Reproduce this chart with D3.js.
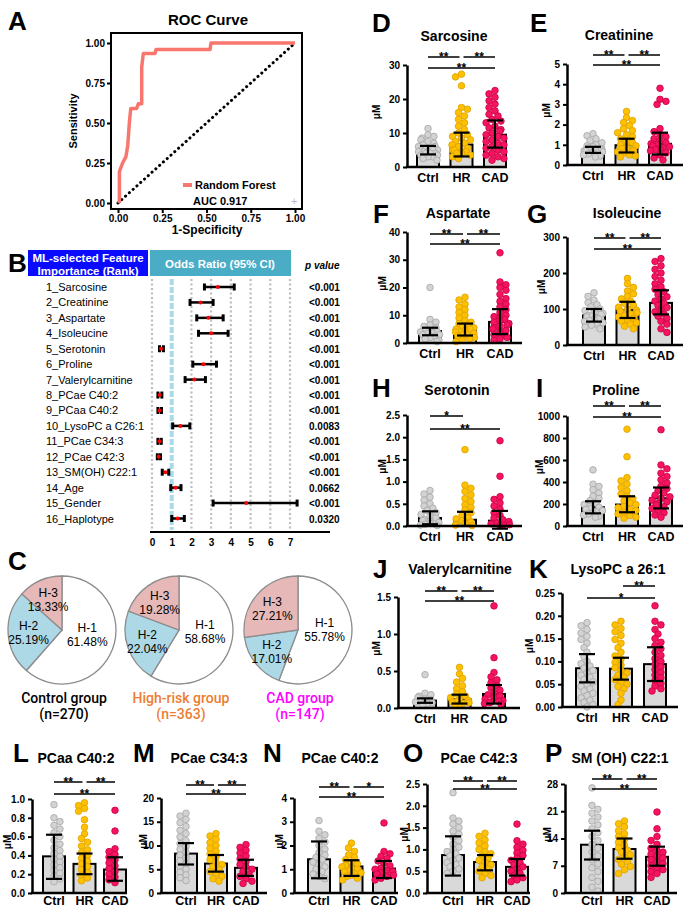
<!DOCTYPE html>
<head>
<meta charset="utf-8">
<script src="https://d3js.org/d3.v7.min.js"></script>
<style>
  body { margin: 0; background: #fff; }
  svg text { font-family: "Liberation Sans", Arial, sans-serif; }
  .tk text { font-size: 10px; font-weight: bold; }
  .tk line { stroke: #000; stroke-width: 2px; }
  .tk path { stroke: #000; stroke-width: 2.5px; }
</style>
</head>
<body>
<div id="fig"></div>
<script>
// ---------- data ----------
// A: ROC curve (1-specificity, sensitivity)
var rocFpr = [0.008, 0.008, 0.026, 0.045, 0.055, 0.064, 0.072, 0.105, 0.115, 0.134, 0.134, 0.143, 0.209, 0.215, 0.52, 0.525, 1.0];
var rocTpr = [0.0, 0.196, 0.25, 0.29, 0.36, 0.50, 0.59, 0.59, 0.62, 0.62, 0.85, 0.935, 0.935, 0.96, 0.96, 1.0, 1.0];

// B: forest plot
var featureNames = ["1_Sarcosine", "2_Creatinine", "3_Aspartate", "4_Isoleucine", "5_Serotonin", "6_Proline",
  "7_Valerylcarnitine", "8_PCae C40:2", "9_PCaa C40:2", "10_LysoPC a C26:1", "11_PCae C34:3", "12_PCae C42:3",
  "13_SM(OH) C22:1", "14_Age", "15_Gender", "16_Haplotype"];
var orValue = [3.34, 2.46, 2.86, 3.0, 0.46, 2.61, 2.15, 0.39, 0.38, 1.44, 0.38, 0.34, 0.68, 1.2, 4.78, 1.3];
var orLow   = [2.66, 1.93, 2.27, 2.36, 0.38, 2.07, 1.68, 0.30, 0.30, 1.05, 0.30, 0.27, 0.52, 0.95, 3.1, 1.0];
var orHigh  = [4.17, 3.10, 3.61, 3.86, 0.58, 3.27, 2.71, 0.50, 0.48, 1.92, 0.47, 0.43, 0.85, 1.47, 7.36, 1.64];
var pValues = ["<0.001", "<0.001", "<0.001", "<0.001", "<0.001", "<0.001", "<0.001", "<0.001", "<0.001",
  "0.0083", "<0.001", "<0.001", "<0.001", "0.0662", "<0.001", "0.0320"];

// C: haplotype pies
var hapLabels = ["H-1", "H-2", "H-3"];
var hapControl = [61.48, 25.19, 13.33];
var hapHighRisk = [58.68, 22.04, 19.28];
var hapCAD = [55.78, 17.01, 27.21];
var pieGroups = ["Control group", "High-risk group", "CAD group"];
var pieN = ["(n=270)", "(n=363)", "(n=147)"];

// D-P: bar + dot panels
var groups = ["Ctrl", "HR", "CAD"];

var sarcosineMean = [5.0, 6.6, 9.5];
var sarcosineErr = [[3.7, 6.2], [3.1, 10.1], [5.7, 13.7]];
var sarcosineDots = [
  [11.3, 9.5, 9, 8.5, 8, 7.5, 7, 6.5, 6.5, 6, 6, 5.5, 5.5, 5, 5, 5, 4.5, 4.5, 4.5, 4, 4, 4, 3.5, 3.5, 3, 3, 2.5, 2],
  [27.3, 26.5, 23.9, 17.5, 17, 16, 15, 14, 13, 12, 11, 10, 9.5, 9, 8.5, 8, 7.5, 7, 6.5, 6, 5.5, 5, 5, 4.5, 4.5, 4, 4, 3.5, 3, 2.5],
  [22.5, 21.5, 20.5, 19.5, 18.5, 17.5, 16.5, 15.5, 15, 14, 13.5, 13, 12, 11.5, 11, 10.5, 10, 9.5, 9, 8.5, 8, 7.5, 7, 6.5, 6, 5.5, 5, 4.5, 4, 3.5, 3, 2.5, 2]];

var creatinineMean = [0.75, 0.98, 1.05];
var creatinineErr = [[0.6, 0.9], [0.62, 1.3], [0.52, 1.6]];
var creatinineDots = [
  [1.55, 1.45, 1.3, 1.2, 1.1, 1.0, 0.95, 0.9, 0.85, 0.8, 0.8, 0.75, 0.7, 0.7, 0.65, 0.6, 0.6, 0.55, 0.5, 0.45, 0.4],
  [2.65, 2.35, 2.2, 2.1, 1.95, 1.8, 1.7, 1.6, 1.5, 1.4, 1.3, 1.2, 1.1, 1.0, 0.95, 0.9, 0.85, 0.8, 0.75, 0.7, 0.65, 0.6, 0.5, 0.45, 0.4],
  [3.8, 3.25, 3.15, 3.0, 1.8, 1.65, 1.5, 1.4, 1.3, 1.2, 1.1, 1.05, 1.0, 0.95, 0.9, 0.85, 0.8, 0.75, 0.7, 0.6, 0.5, 0.35, 0.25]];

var aspartateMean = [4.3, 4.7, 7.6];
var aspartateErr = [[2.8, 5.5], [2.7, 7.0], [3.2, 12.2]];
var aspartateDots = [
  [20, 8.5, 7.5, 6.5, 6, 5.5, 5, 4.5, 4.5, 4, 4, 3.5, 3.5, 3, 3, 2.5, 2, 1.5, 1, 0.5],
  [16.5, 15.5, 14, 13, 12, 11, 10, 9, 8, 7.5, 7, 6.5, 6, 5.5, 5, 5, 4.5, 4, 4, 3.5, 3, 3, 2.5, 2, 1.5, 1, 0.5],
  [32.5, 22, 21, 20, 19, 17.5, 16, 15, 14, 13, 12, 11, 10, 9.5, 9, 8.5, 8, 7.5, 7, 6.5, 6, 5.5, 5, 4.5, 4, 3.5, 3, 2.5, 2, 1.5, 1]];

var isoleucineMean = [82, 97, 117];
var isoleucineErr = [[65, 100], [75, 120], [85, 152]];
var isoleucineDots = [
  [145, 135, 125, 118, 112, 106, 100, 96, 92, 88, 85, 82, 80, 78, 75, 72, 70, 68, 65, 62, 58, 55, 50, 45],
  [185, 170, 160, 150, 142, 135, 128, 122, 116, 110, 105, 100, 97, 94, 90, 86, 82, 78, 74, 70, 66, 62, 58, 52, 45],
  [240, 232, 220, 210, 200, 190, 180, 170, 162, 155, 148, 140, 134, 128, 122, 116, 110, 104, 98, 92, 86, 80, 74, 66, 58, 45, 35]];

var serotoninMean = [0.18, 0.14, 0.12];
var serotoninErr = [[0.04, 0.33], [0.0, 0.32], [-0.06, 0.34]];
var serotoninDots = [
  [0.8, 0.72, 0.65, 0.58, 0.5, 0.45, 0.4, 0.35, 0.3, 0.26, 0.22, 0.18, 0.15, 0.12, 0.1, 0.08, 0.06, 0.04, 0.02, 0.01],
  [1.72, 0.92, 0.85, 0.78, 0.7, 0.62, 0.55, 0.48, 0.42, 0.36, 0.3, 0.25, 0.2, 0.16, 0.12, 0.09, 0.06, 0.04, 0.02, 0.01],
  [1.92, 1.12, 0.66, 0.6, 0.52, 0.45, 0.38, 0.3, 0.24, 0.18, 0.14, 0.1, 0.07, 0.05, 0.03, 0.02, 0.01]];

var prolineMean = [170, 195, 252];
var prolineErr = [[115, 225], [125, 270], [160, 350]];
var prolineDots = [
  [510, 380, 360, 330, 300, 270, 250, 230, 210, 195, 180, 170, 160, 150, 140, 130, 120, 110, 100, 90, 80],
  [880, 630, 440, 410, 380, 350, 320, 290, 270, 250, 230, 210, 195, 180, 165, 150, 140, 125, 110, 95, 80, 70],
  [875, 555, 520, 480, 450, 420, 390, 360, 340, 320, 300, 280, 265, 250, 235, 220, 205, 190, 175, 160, 140, 120, 100, 80]];

var valerylMean = [0.1, 0.12, 0.19];
var valerylErr = [[0.07, 0.13], [0.06, 0.18], [0.06, 0.31]];
var valerylDots = [
  [0.45, 0.2, 0.18, 0.16, 0.14, 0.12, 0.11, 0.1, 0.09, 0.08, 0.07, 0.06, 0.05],
  [0.55, 0.46, 0.4, 0.35, 0.3, 0.26, 0.22, 0.19, 0.16, 0.14, 0.12, 0.1, 0.09, 0.08, 0.07, 0.06, 0.05, 0.04],
  [1.38, 0.68, 0.48, 0.42, 0.38, 0.34, 0.3, 0.27, 0.24, 0.21, 0.18, 0.16, 0.14, 0.12, 0.1, 0.09, 0.08, 0.07, 0.06, 0.05]];

var lysoMean = [0.085, 0.084, 0.094];
var lysoErr = [[0.054, 0.116], [0.06, 0.108], [0.057, 0.131]];
var lysoDots = [
  [0.185, 0.178, 0.17, 0.162, 0.155, 0.148, 0.14, 0.13, 0.12, 0.11, 0.1, 0.095, 0.09, 0.085, 0.08, 0.075, 0.07, 0.065, 0.06, 0.055, 0.05, 0.045, 0.04, 0.035, 0.03, 0.025, 0.02, 0.015, 0.01, 0.005, 0.0],
  [0.188, 0.18, 0.172, 0.165, 0.157, 0.148, 0.14, 0.13, 0.12, 0.112, 0.105, 0.098, 0.092, 0.086, 0.08, 0.075, 0.07, 0.065, 0.06, 0.055, 0.05, 0.045, 0.04, 0.03, 0.015, 0.005],
  [0.222, 0.188, 0.18, 0.17, 0.16, 0.15, 0.142, 0.135, 0.128, 0.12, 0.113, 0.106, 0.1, 0.094, 0.088, 0.082, 0.076, 0.07, 0.064, 0.058, 0.052, 0.046, 0.04, 0.035]];

var pcaa402Mean = [0.39, 0.31, 0.25];
var pcaa402Err = [[0.15, 0.62], [0.2, 0.42], [0.13, 0.38]];
var pcaa402Dots = [
  [0.94, 0.8, 0.76, 0.72, 0.68, 0.64, 0.6, 0.56, 0.52, 0.48, 0.45, 0.42, 0.39, 0.36, 0.33, 0.3, 0.27, 0.24, 0.21, 0.18, 0.15, 0.12],
  [0.96, 0.93, 0.9, 0.87, 0.78, 0.7, 0.63, 0.58, 0.54, 0.5, 0.46, 0.43, 0.4, 0.37, 0.34, 0.31, 0.28, 0.25, 0.22, 0.19, 0.16, 0.13],
  [0.88, 0.66, 0.47, 0.44, 0.41, 0.38, 0.35, 0.32, 0.29, 0.26, 0.23, 0.2, 0.17, 0.14, 0.11]];

var pcae343Mean = [8.3, 6.2, 5.3];
var pcae343Err = [[6.0, 10.5], [4.5, 8.0], [3.6, 7.0]];
var pcae343Dots = [
  [16.8, 16.2, 15.5, 14.8, 14, 13.2, 12.5, 11.8, 11, 10.4, 9.8, 9.2, 8.6, 8, 7.4, 6.8, 6.2, 5.6, 5, 4.4, 3.8, 3.2, 2.6],
  [12.5, 12, 11.3, 10.6, 10, 9.4, 8.8, 8.2, 7.6, 7, 6.5, 6, 5.5, 5, 4.5, 4, 3.5, 3, 2.5],
  [10.2, 9.6, 9, 8.4, 7.8, 7.2, 6.6, 6, 5.5, 5, 4.5, 4, 3.5, 3, 2.5, 2]];

var pcae402Mean = [1.42, 1.12, 1.03];
var pcae402Err = [[0.62, 2.17], [0.72, 1.38], [0.63, 1.35]];
var pcae402Dots = [
  [3.05, 2.6, 2.45, 2.3, 2.15, 2.0, 1.85, 1.7, 1.6, 1.5, 1.4, 1.3, 1.2, 1.1, 1.0, 0.9, 0.8, 0.7, 0.6],
  [2.1, 1.9, 1.75, 1.6, 1.5, 1.4, 1.3, 1.22, 1.15, 1.1, 1.05, 1.0, 0.95, 0.9, 0.85, 0.8, 0.75, 0.7, 0.62, 0.55],
  [2.95, 1.75, 1.65, 1.55, 1.45, 1.35, 1.25, 1.15, 1.05, 1.0, 0.95, 0.9, 0.85, 0.8, 0.75, 0.7, 0.62, 0.55]];

var pcae423Mean = [0.87, 0.71, 0.6];
var pcae423Err = [[0.4, 1.3], [0.52, 0.87], [0.4, 0.78]];
var pcae423Dots = [
  [2.3, 1.72, 1.65, 1.58, 1.5, 1.42, 1.35, 1.28, 1.2, 1.12, 1.05, 1.0, 0.95, 0.9, 0.85, 0.8, 0.75, 0.7, 0.65, 0.6, 0.55, 0.5, 0.45],
  [1.37, 1.3, 1.22, 1.15, 1.08, 1.0, 0.95, 0.9, 0.85, 0.8, 0.75, 0.7, 0.65, 0.6, 0.55, 0.5, 0.45, 0.4, 0.35],
  [1.58, 1.2, 1.12, 1.05, 0.98, 0.92, 0.86, 0.8, 0.75, 0.7, 0.65, 0.6, 0.55, 0.5, 0.45, 0.4, 0.35, 0.3, 0.26]];

var smohMean = [12.4, 11.3, 9.3];
var smohErr = [[8.6, 16.0], [8.8, 14.0], [7.0, 11.9]];
var smohDots = [
  [27, 22.5, 21.5, 20.5, 19.5, 18.5, 17.5, 16.5, 15.5, 14.5, 13.5, 12.5, 11.5, 10.5, 9.5, 8.5, 7.5, 6.5, 5.5, 4, 3, 1.5, 0.5],
  [18.5, 17.8, 17, 16, 15.2, 14.5, 13.8, 13, 12.3, 11.6, 11, 10.4, 9.8, 9.2, 8.6, 8, 7.4, 6.8, 6, 5],
  [20.8, 16.5, 14.5, 13.5, 12.5, 11.5, 11, 10.5, 10, 9.5, 9, 8.5, 8, 7.5, 7, 6.5, 6, 5.5, 5, 4]];

// ---------- layout ----------
var panels = [
  {id: "D", title: "Sarcosine", mean: sarcosineMean, err: sarcosineErr, dots: sarcosineDots, ticks: [0, 10, 20, 30], fmt: "d", yMax: 30,
   ax: 407, xEnd: 507, c: [428, 495], y0: 167, yTop: 65, sig: [["**", "**", "**"], 57, 68], uX: 380, lx: 372, ly: 32, tx: 454, ty: 41},
  {id: "E", title: "Creatinine", mean: creatinineMean, err: creatinineErr, dots: creatinineDots, ticks: [0, 1, 2, 3, 4, 5], fmt: "d", yMax: 5,
   ax: 567, xEnd: 683, c: [593, 660], y0: 165, yTop: 64, sig: [["**", "**", "**"], 55, 65], uX: 550, lx: 530, ly: 32, tx: 619, ty: 40},
  {id: "F", title: "Aspartate", mean: aspartateMean, err: aspartateErr, dots: aspartateDots, ticks: [0, 10, 20, 30, 40], fmt: "d", yMax: 40,
   ax: 407, xEnd: 522, c: [430, 500], y0: 343, yTop: 232, sig: [["**", "**", "**"], 234, 244], uX: 386, lx: 373, ly: 223, tx: 458, ty: 218},
  {id: "G", title: "Isoleucine", mean: isoleucineMean, err: isoleucineErr, dots: isoleucineDots, ticks: [0, 100, 200, 300], fmt: "d", yMax: 300,
   ax: 567, xEnd: 683, c: [594, 661], y0: 345, yTop: 237, sig: [["**", "**", "**"], 238, 249], uX: 545, lx: 527, ly: 223, tx: 627, ty: 218},
  {id: "H", title: "Serotonin", mean: serotoninMean, err: serotoninErr, dots: serotoninDots, ticks: [0, 0.5, 1, 1.5, 2, 2.5], fmt: ".1f", yMax: 2.5,
   ax: 407, xEnd: 522, c: [430, 500], y0: 526, yTop: 415, sig: [["*", null, "**"], 416, 429], uX: 386, lx: 372, ly: 397, tx: 457, ty: 395},
  {id: "I", title: "Proline", mean: prolineMean, err: prolineErr, dots: prolineDots, ticks: [0, 200, 400, 600, 800, 1000], fmt: "d", yMax: 1000,
   ax: 567, xEnd: 683, c: [593, 661], y0: 526, yTop: 416, sig: [["**", "**", "**"], 406, 417], uX: 543, lx: 536, ly: 397, tx: 616, ty: 395},
  {id: "J", title: "Valerylcarnitine", mean: valerylMean, err: valerylErr, dots: valerylDots, ticks: [0, 0.5, 1, 1.5], fmt: ".1f", yMax: 1.5,
   ax: 398, xEnd: 520, c: [425, 494], y0: 708, yTop: 597, sig: [["**", "**", "**"], 591, 601], uX: 380, lx: 373, ly: 578, tx: 460, ty: 574},
  {id: "K", title: "LysoPC a 26:1", mean: lysoMean, err: lysoErr, dots: lysoDots, ticks: [0, 0.05, 0.1, 0.15, 0.2, 0.25], fmt: ".2f", yMax: 0.25,
   ax: 562, xEnd: 678, c: [587, 655], y0: 707, yTop: 593, sig: [[null, "**", "*"], 586, 598], uX: 533, lx: 529, ly: 578, tx: 618, ty: 574},
  {id: "L", title: "PCaa C40:2", mean: pcaa402Mean, err: pcaa402Err, dots: pcaa402Dots, ticks: [0, 0.2, 0.4, 0.6, 0.8, 1.0], fmt: ".1f", yMax: 1.0,
   ax: 32, xEnd: 127, c: [54, 115], y0: 893, yTop: 799, sig: [["**", "**", "**"], 782, 794], uX: 11, lx: 13, ly: 762, tx: 76, ty: 763},
  {id: "M", title: "PCae C34:3", mean: pcae343Mean, err: pcae343Err, dots: pcae343Dots, ticks: [0, 5, 10, 15, 20], fmt: "d", yMax: 20,
   ax: 161, xEnd: 267, c: [186, 246], y0: 893, yTop: 798, sig: [["**", "**", "**"], 785, 794], uX: 147, lx: 133, ly: 762, tx: 209, ty: 763},
  {id: "N", title: "PCae C40:2", mean: pcae402Mean, err: pcae402Err, dots: pcae402Dots, ticks: [0, 1, 2, 3, 4], fmt: "d", yMax: 4,
   ax: 294, xEnd: 398, c: [319, 384], y0: 893, yTop: 798, sig: [["**", "*", "**"], 787, 797], uX: 283, lx: 263, ly: 762, tx: 340, ty: 763},
  {id: "O", title: "PCae C42:3", mean: pcae423Mean, err: pcae423Err, dots: pcae423Dots, ticks: [0, 0.5, 1, 1.5, 2, 2.5], fmt: ".1f", yMax: 2.5,
   ax: 427, xEnd: 530, c: [453, 517], y0: 893, yTop: 784, sig: [["**", "**", "**"], 781, 789], uX: 408, lx: 403, ly: 762, tx: 479, ty: 763},
  {id: "P", title: "SM (OH) C22:1", mean: smohMean, err: smohErr, dots: smohDots, ticks: [0, 7, 14, 21, 28], fmt: "d", yMax: 28,
   ax: 565, xEnd: 677, c: [592, 657], y0: 893, yTop: 784, sig: [["**", "**", "**"], 779, 789], uX: 551, lx: 545, ly: 762, tx: 620, ty: 763}
];

var dotFill = ["#d3d3d3", "#ffc000", "#f7145f"];
var dotStroke = ["#a6a6a6", "#dca200", "#c8004a"];

var svg = d3.select("#fig").append("svg").attr("width", 685).attr("height", 909);

function letter(t, x, y) {
  svg.append("text").attr("x", x).attr("y", y).attr("font-size", 26).attr("font-weight", "bold").text(t);
}

// ---------- A: ROC ----------
letter("A", 8, 30);
svg.append("text").attr("x", 208).attr("y", 25).attr("text-anchor", "middle")
  .attr("font-size", 15).attr("font-weight", "bold").text("ROC Curve");

var rx = d3.scaleLinear().domain([0, 1]).range([118, 295]);
var ry = d3.scaleLinear().domain([0, 1]).range([203, 43]);

svg.append("rect").attr("x", 111).attr("y", 33).attr("width", 191).attr("height", 176)
  .attr("fill", "none").attr("stroke", "#000").attr("stroke-width", 2);

var rocTicks = [0, 0.25, 0.5, 0.75, 1];
var ay = svg.append("g").attr("class", "tk").attr("transform", "translate(111,0)")
  .call(d3.axisLeft(ry).tickValues(rocTicks).tickFormat(d3.format(".2f")).tickSize(4).tickPadding(2));
ay.select(".domain").remove();
ay.selectAll("text").attr("font-size", 11);
var axx = svg.append("g").attr("class", "tk").attr("transform", "translate(0,209)")
  .call(d3.axisBottom(rx).tickValues(rocTicks).tickFormat(d3.format(".2f")).tickSize(4).tickPadding(2));
axx.select(".domain").remove();
axx.selectAll("text").attr("font-size", 11);

svg.append("text").attr("transform", "translate(77,121) rotate(-90)").attr("text-anchor", "middle")
  .attr("font-size", 11).attr("font-weight", "bold").text("Sensitivity");
svg.append("text").attr("x", 207).attr("y", 234).attr("text-anchor", "middle")
  .attr("font-size", 12).attr("font-weight", "bold").text("1-Specificity");

svg.append("line").attr("x1", rx(0)).attr("y1", ry(0)).attr("x2", rx(1)).attr("y2", ry(1))
  .attr("stroke", "#000").attr("stroke-width", 3).attr("stroke-dasharray", "0.1,5").attr("stroke-linecap", "round");

var rocLine = d3.line().x(function (d, i) { return rx(rocFpr[i]); }).y(function (d, i) { return ry(rocTpr[i]); });
svg.append("path").attr("d", rocLine(rocFpr)).attr("fill", "none")
  .attr("stroke", "#f8766d").attr("stroke-width", 3.5).attr("stroke-linejoin", "round");

svg.append("line").attr("x1", 183).attr("x2", 192).attr("y1", 185).attr("y2", 185)
  .attr("stroke", "#f8766d").attr("stroke-width", 4);
svg.append("text").attr("x", 195).attr("y", 189).attr("font-size", 11).attr("font-weight", "bold").text("Random Forest");
svg.append("text").attr("x", 193).attr("y", 205).attr("font-size", 11).attr("font-weight", "bold").text("AUC 0.917");
svg.append("text").attr("x", 291).attr("y", 205).attr("font-size", 11).attr("fill", "#bbb").text("+");

// ---------- B: forest plot ----------
letter("B", 8, 272);
svg.append("rect").attr("x", 28).attr("y", 250).attr("width", 120).attr("height", 26).attr("fill", "#0a0aff");
svg.append("text").attr("x", 88).attr("y", 261.5).attr("text-anchor", "middle").attr("fill", "#fff")
  .attr("font-size", 11.5).attr("font-weight", "bold").text("ML-selected Feature");
svg.append("text").attr("x", 88).attr("y", 274.5).attr("text-anchor", "middle").attr("fill", "#fff")
  .attr("font-size", 11.5).attr("font-weight", "bold").text("Importance (Rank)");
svg.append("rect").attr("x", 150).attr("y", 250).attr("width", 141).attr("height", 26).attr("fill", "#4bacc6");
svg.append("text").attr("x", 220).attr("y", 268).attr("text-anchor", "middle").attr("fill", "#fff")
  .attr("font-size", 11.5).attr("font-weight", "bold").text("Odds Ratio (95% CI)");
svg.append("text").attr("x", 305).attr("y", 269).attr("font-size", 10).attr("font-weight", "bold")
  .attr("font-style", "italic").text("p value");

var fx = d3.scaleLinear().domain([0, 7]).range([152, 290]);
var fy = d3.scalePoint().domain(featureNames).range([287, 518.5]);

d3.range(8).forEach(function (k) {
  svg.append("line").attr("x1", fx(k)).attr("x2", fx(k)).attr("y1", 279).attr("y2", 530)
    .attr("stroke", k === 1 ? "#a8dbe8" : "#bdbdbd").attr("stroke-width", k === 1 ? 4 : 2.2)
    .attr("stroke-dasharray", k === 1 ? "6,2" : "2,2.5");
});

var fax = svg.append("g").attr("transform", "translate(0,532)")
  .call(d3.axisBottom(fx).tickValues(d3.range(8)).tickFormat(d3.format("d")).tickSize(0).tickPadding(7));
fax.select(".domain").remove();
fax.selectAll("text").attr("font-size", 10).attr("font-weight", "bold");
svg.append("line").attr("x1", 150).attr("x2", 330).attr("y1", 532).attr("y2", 532)
  .attr("stroke", "#000").attr("stroke-width", 2);

featureNames.forEach(function (name, i) {
  var yy = fy(name);
  svg.append("text").attr("x", 46).attr("y", yy + 4).attr("font-size", 11).text(name);
  svg.append("line").attr("x1", fx(orLow[i])).attr("x2", fx(orHigh[i])).attr("y1", yy).attr("y2", yy)
    .attr("stroke", "#000").attr("stroke-width", 2.5);
  [orLow[i], orHigh[i]].forEach(function (v) {
    svg.append("rect").attr("x", fx(v) - 1.5).attr("y", yy - 3.5).attr("width", 3).attr("height", 7).attr("fill", "#000");
  });
  svg.append("circle").attr("cx", fx(orValue[i])).attr("cy", yy).attr("r", 2).attr("fill", "#ff0000");
  svg.append("text").attr("x", 309).attr("y", yy + 4).attr("font-size", 10).attr("font-weight", "bold").text(pValues[i]);
});

// ---------- C: pies ----------
letter("C", 8, 570);
var pieData = [hapControl, hapHighRisk, hapCAD];
var pieCx = [62, 179, 298];
var pieCol = ["#ffffff", "#add8e6", "#e6b8b7"];
var labelR = [0.5, 0.62, 0.63];
var groupCol = ["#000000", "#ed7d31", "#ff00ff"];
var pie = d3.pie().sort(null);
var pr = 54, pcy = 630;
pieData.forEach(function (vals, g) {
  var gg = svg.append("g").attr("transform", "translate(" + pieCx[g] + "," + pcy + ")");
  var arcs = pie(vals);
  gg.selectAll("path").data(arcs).enter().append("path")
    .attr("d", d3.arc().innerRadius(0).outerRadius(pr))
    .attr("fill", function (d, i) { return pieCol[i]; })
    .attr("stroke", "#8c8c8c").attr("stroke-width", 1.3);
  arcs.forEach(function (a, i) {
    var c = d3.arc().innerRadius(pr * labelR[i]).outerRadius(pr * labelR[i]).centroid(a);
    var dy = i === 0 ? -6 : 0;
    gg.append("text").attr("x", c[0]).attr("y", c[1] - 2 + dy).attr("text-anchor", "middle")
      .attr("font-size", 12).text(hapLabels[i]);
    gg.append("text").attr("x", c[0]).attr("y", c[1] + 12 + dy).attr("text-anchor", "middle")
      .attr("font-size", 12).text(vals[i].toFixed(2) + "%");
  });
  svg.append("text").attr("x", pieCx[g] + 2).attr("y", 703).attr("text-anchor", "middle")
    .style("font-family", "Roboto, sans-serif").attr("font-weight", 500)
    .attr("font-size", 14).attr("fill", groupCol[g]).text(pieGroups[g]);
  svg.append("text").attr("x", pieCx[g] + 2).attr("y", 719).attr("text-anchor", "middle")
    .style("font-family", "Roboto, sans-serif").attr("font-weight", 500)
    .attr("font-size", 14).attr("fill", groupCol[g]).text(pieN[g]);
});

// ---------- D-P: bar panels ----------
function swarm(vals, cx, y, r, half) {
  var placed = [];
  var pts = vals.map(function (v) { return {v: v, py: y(v)}; }).sort(function (a, b) { return a.py - b.py; });
  pts.forEach(function (d, n) {
    var best = null;
    for (var k = 0; k <= 12 && best === null; k++) {
      var opts = k === 0 ? [0] : (n % 2 ? [-k, k] : [k, -k]);
      for (var j = 0; j < opts.length; j++) {
        var off = opts[j] * r * 0.9;
        if (Math.abs(off) > half) continue;
        var ok = placed.every(function (p) { return Math.hypot(p.x - (cx + off), p.py - d.py) >= r * 1.55; });
        if (ok) { best = off; break; }
      }
    }
    if (best === null) best = ((n * 7) % 9 - 4) / 4 * half;
    d.x = cx + best;
    placed.push(d);
  });
  return pts;
}

panels.forEach(function (p) {
  var x = d3.scalePoint().domain(groups).range(p.c);
  var y = d3.scaleLinear().domain([0, p.yMax]).range([p.y0, p.yTop]);
  var g = svg.append("g");

  letter(p.id, p.lx, p.ly);
  g.append("text").attr("x", p.tx).attr("y", p.ty).attr("text-anchor", "middle")
    .attr("font-size", 14).attr("font-weight", "bold").text(p.title);

  g.selectAll("rect.bar").data(groups).enter().append("rect").attr("class", "bar")
    .attr("x", function (d) { return x(d) - 11; })
    .attr("y", function (d, i) { return y(p.mean[i]); })
    .attr("width", 22)
    .attr("height", function (d, i) { return p.y0 - y(p.mean[i]); })
    .attr("fill", "#d9d9d9").attr("stroke", "#000").attr("stroke-width", 2);

  groups.forEach(function (grp, i) {
    var pts = swarm(p.dots[i], x(grp), y, 3.3, 9.5);
    g.selectAll(null).data(pts).enter().append("circle")
      .attr("cx", function (d) { return d.x; }).attr("cy", function (d) { return d.py; })
      .attr("r", 3.3).attr("fill", dotFill[i]).attr("stroke", dotStroke[i]).attr("stroke-width", 0.8);
  });

  groups.forEach(function (grp, i) {
    var cx = x(grp), lo = y(p.err[i][0]), hi = y(p.err[i][1]);
    g.append("line").attr("x1", cx).attr("x2", cx).attr("y1", lo).attr("y2", hi).attr("stroke", "#000").attr("stroke-width", 2.2);
    [lo, hi].forEach(function (yy) {
      g.append("line").attr("x1", cx - 8).attr("x2", cx + 8).attr("y1", yy).attr("y2", yy)
        .attr("stroke", "#000").attr("stroke-width", 2.2);
    });
  });

  g.append("g").attr("class", "tk").attr("transform", "translate(" + p.ax + ",0)")
    .call(d3.axisLeft(y).tickValues(p.ticks).tickFormat(d3.format(p.fmt)).tickSize(4).tickSizeOuter(0).tickPadding(3));
  g.append("line").attr("x1", p.ax - 1.2).attr("x2", p.xEnd).attr("y1", p.y0).attr("y2", p.y0)
    .attr("stroke", "#000").attr("stroke-width", 2.5);

  var labY = Math.min(p.y0 + 15, 905);
  groups.forEach(function (grp) {
    g.append("text").attr("x", x(grp)).attr("y", labY).attr("text-anchor", "middle")
      .attr("font-size", 12.5).attr("font-weight", "bold").text(grp);
  });

  g.append("text").attr("transform", "translate(" + p.uX + "," + ((p.y0 + p.yTop) / 2 - 4) + ") rotate(-90)")
    .attr("text-anchor", "middle").attr("font-size", 10).attr("font-weight", "bold").text("μM");

  // significance brackets: [Ctrl-HR, HR-CAD, Ctrl-CAD]
  var segs = [[x("Ctrl"), x("HR") - 2, p.sig[1]], [x("HR") + 2, x("CAD"), p.sig[1]], [x("Ctrl"), x("CAD"), p.sig[2]]];
  segs.forEach(function (s, k) {
    var lab = p.sig[0][k];
    if (!lab) return;
    g.append("line").attr("x1", s[0]).attr("x2", s[1]).attr("y1", s[2]).attr("y2", s[2])
      .attr("stroke", "#000").attr("stroke-width", 1.5);
    g.append("text").attr("x", (s[0] + s[1]) / 2).attr("y", s[2] + 4).attr("text-anchor", "middle")
      .attr("font-size", 12).attr("font-weight", "bold").text(lab);
  });
});
</script>
</body>
